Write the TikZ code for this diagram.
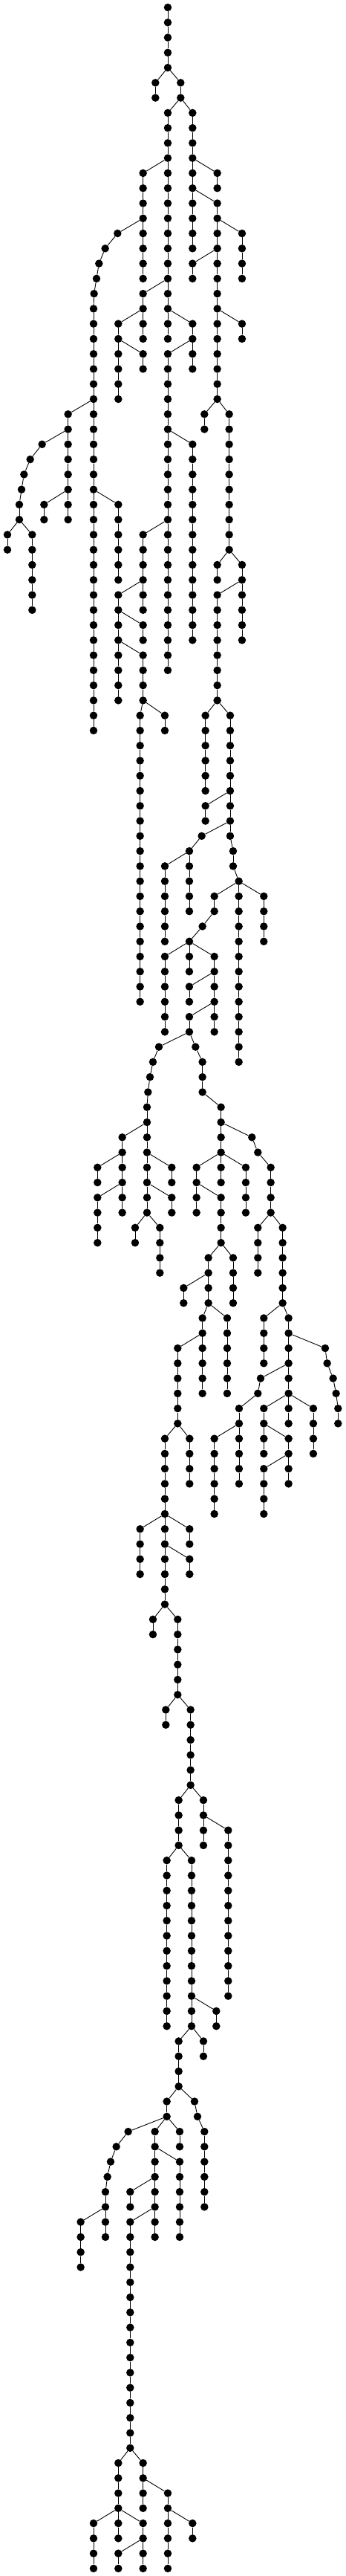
\documentclass[tikz,border=0pt]{standalone}
\begin{document}
\begin{tikzpicture}[x=0.33333bp, y=-20.27bp,
  dot/.style={circle, fill=black, inner sep=0pt, minimum size=10.5bp},
  edge/.style={line width=0.9bp}]
\useasboundingbox (0,-0.4933) rectangle (1398,170.5);
% root
\node[dot] (n678-0) at (678,0) {};
% each entry: column / first level / last level / column of the parent
\foreach \x/\a/\b/\p in {
  678/1/4/678, 628/5/6/678, 730/5/6/678, 678/7/22/730, 778/7/16/730,
  578/11/18/678, 878/11/12/778, 878/13/26/778,
  475/15/15/578, 425/16/16/475, 400/17/17/425, 390/18/18/400, 380/19/19/390, 378/20/48/380,
  578/19/22/678, 778/21/24/678, 478/21/26/578, 578/23/24/478, 678/23/44/778,
  978/15/18/878, 778/17/18/878, 978/21/22/878,
  275/27/34/378, 826/27/28/878, 926/27/36/878,
  170/29/29/275, 122/30/30/170, 97/31/31/122, 87/32/32/97, 78/33/34/87,
  30/35/36/78, 130/35/40/78, 178/33/34/275, 478/33/38/378,
  778/29/42/678, 578/35/40/678, 478/39/46/578, 578/41/42/478, 578/43/46/478,
  566/47/66/578, 666/47/48/578,
  878/37/38/926, 978/37/42/926, 878/39/46/978,
  830/47/52/878, 930/47/55/878, 830/53/54/930, 815/55/55/930, 942/56/57/930,
  965/58/70/942, 765/56/60/815, 666/57/62/765,
  866/59/60/965, 1066/59/62/965, 818/61/61/866, 765/62/62/818,
  666/63/68/765, 765/63/64/765, 866/63/68/765, 765/65/66/866, 765/67/68/866,
  642/69/69/765, 618/70/70/642, 606/71/71/618, 598/72/72/606, 594/73/80/598,
  790/69/69/765, 818/70/72/790, 893/73/78/818,
  1018/75/75/893, 1042/76/76/1018, 1094/77/80/1042, 1042/81/84/1094, 1142/81/86/1094,
  794/77/80/893, 993/77/80/893, 893/79/82/794, 842/83/86/893, 942/83/86/893, 742/85/86/842,
  494/75/80/594, 394/77/78/494, 394/79/82/494, 694/77/78/594, 694/79/80/594,
  546/81/82/594, 646/81/84/594,
  818/87/92/842, 918/87/92/842, 718/89/94/818, 666/95/106/718, 766/95/98/718,
  1066/87/90/1142, 1166/87/94/1142,
  1314/89/89/1166, 1322/90/90/1314, 1346/91/91/1322, 1358/92/92/1346, 1366/93/94/1358,
  1053/91/91/1166, 1042/92/92/1053, 966/93/98/1042, 866/95/100/966,
  1066/93/96/1166, 1266/93/96/1166, 1166/95/98/1066, 1066/97/100/1166,
  566/101/104/666, 766/101/102/666, 766/103/104/666, 618/107/108/666, 718/107/112/666,
  670/113/114/718, 770/113/118/718, 722/119/122/770, 822/119/122/770, 922/121/132/822,
  674/123/134/722, 774/123/134/722, 874/133/134/774, 722/135/138/774, 822/135/136/774,
  674/139/140/722, 786/139/139/722, 798/140/140/786, 826/141/146/798,
  518/141/141/674, 470/142/142/518, 447/143/143/470, 434/144/144/447, 426/145/148/434,
  326/147/150/426, 626/141/148/674, 726/141/142/674, 726/143/148/626,
  526/145/146/626, 526/147/162/626,
  478/163/168/526, 578/163/166/526, 378/167/170/478, 578/167/170/478,
  478/169/170/578, 678/165/170/578, 778/167/168/678}
{
  \pgfmathtruncatemacro\up{\a-1}
  \node[dot] (n\x-\a) at (\x,\a) {};
  \draw[edge] (n\p-\up) -- (n\x-\a);
  \ifnum\b>\a
    \pgfmathtruncatemacro\nxt{\a+1}
    \foreach \k in {\nxt,...,\b}{
      \pgfmathtruncatemacro\km{\k-1}
      \node[dot] (n\x-\k) at (\x,\k) {};
      \draw[edge] (n\x-\km) -- (n\x-\k);
    }
  \fi
}
\end{tikzpicture}
\end{document}
